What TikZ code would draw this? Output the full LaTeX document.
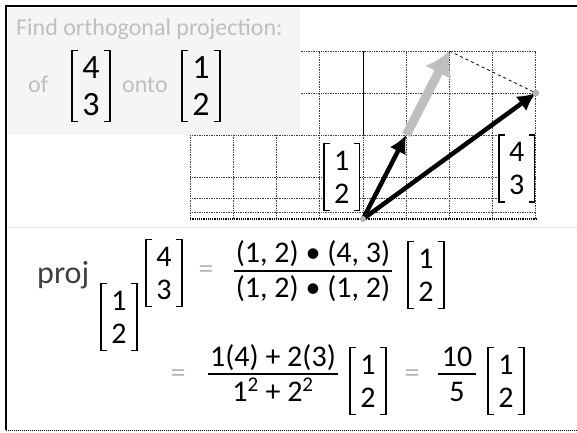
\documentclass[tikz,border=0pt]{standalone}
\usepackage{fontspec}
\setmainfont{Carlito}
\usetikzlibrary{arrows.meta,calc}

% square brackets round a column vector node
\newcommand{\brkt}[1]{%
  \draw[brk] ([xshift=6pt]#1.north west) -- (#1.north west) -- (#1.south west) -- ([xshift=6pt]#1.south west);
  \draw[brk] ([xshift=-6pt]#1.north east) -- (#1.north east) -- (#1.south east) -- ([xshift=-6pt]#1.south east);}

\begin{document}
\begin{tikzpicture}[x=1pt, y=-1pt,
    txt/.style={inner sep=0pt, font=\fontsize{30}{34}\selectfont},
    faint/.style={txt, text=gray!55},
    titletxt/.style={inner sep=0pt, font=\fontsize{24}{27}\selectfont, text=gray!50},
    vecnode/.style={align=center, inner xsep=10pt, inner ysep=7pt, font=\fontsize{30}{33}\selectfont},
    bigvec/.style={vecnode, inner ysep=6pt, font=\fontsize{34}{37}\selectfont},
    gridvec/.style={vecnode, fill=white},
    brk/.style={line width=1.5pt},
    frame/.style={line width=2.5pt},
    gridline/.style={densely dotted, line width=0.7pt, black!75},
    vecarrow/.style={line width=4.5pt, -{Latex[length=18pt,width=18pt]}},
    projarrow/.style={line width=9pt, gray!50, -{Latex[length=24pt,width=30pt]}},
    fracrule/.style={line width=1.2pt}]
    \useasboundingbox (0,0) rectangle (577,432);
    \fill[white] (0,0) rectangle (577,432);

    % Grid with vectors
    \begin{scope}[shift={(363,219)}, x=43.2pt, y=42pt]
        \foreach \i in {-4,...,4}
            \draw[gridline] (\i,0) -- (\i,4);
        \foreach \j in {0.17,0.5,1,2,3,4}
            \draw[gridline] (-4,\j) -- (4,\j);
        \draw[line width=1.2pt, densely dotted] (-4,0) -- (4,0);
        \draw[line width=0.9pt] (0,2) -- (0,4);
        \coordinate (O) at (0,0);
        \coordinate (u) at (1,2);
        \coordinate (v) at (4,3);
        \coordinate (p) at (2,4);
        \node[gridvec] (ulab) at (-0.49,1.0) {1\\2};
        \node[gridvec] (vlab) at (3.56,1.2) {4\\3};
        \brkt{ulab}
        \brkt{vlab}
        \draw[dashed, line width=0.8pt] (p) -- (v);
        \draw[projarrow] (u) -- (p);
        \draw[vecarrow] (O) -- (u);
        \draw[vecarrow] (O) -- (v);
        \fill[gray!60] (O) circle (3pt);
        \fill[gray!60] (v) circle (3.5pt);
    \end{scope}

    % Title box
    \fill[black!4] (8,8) rectangle (300,135);
    \node[titletxt, anchor=base west] (title) at (16,35) {Find orthogonal projection:};
    \node[titletxt, anchor=base west] (of) at (28,92) {of};
    \node[bigvec] (a) at (91,86) {4\\3};
    \node[titletxt, anchor=base west] (onto) at (122,92) {onto};
    \node[bigvec] (b) at (201,86) {1\\2};
    \brkt{a}
    \brkt{b}

    % Divider and frame
    \draw[gray!25, line width=1pt] (8,227) -- (577,227);
    \draw[frame] (577,6) -- (6,6) -- (6,430);
    \draw[densely dotted, line width=1pt] (6,430) -- (577,430);

    % First line
    \node[txt, anchor=base west, text=black!75, font=\fontsize{32}{34}\selectfont] (proj) at (37,283) {proj};
    \node[vecnode] (sub) at (119,317) {1\\2};
    \node[vecnode] (arg) at (164,273) {4\\3};
    \node[faint] (eq1) at (206,272) {=};
    \node[txt, anchor=base] (num1) at (313,262) {(1, 2) \textbullet\ (4, 3)};
    \node[txt, anchor=base] (den1) at (313,297) {(1, 2) \textbullet\ (1, 2)};
    \draw[fracrule] ([xshift=-2pt]num1.west |- 0,271) -- ([xshift=2pt]num1.east |- 0,271);
    \node[vecnode] (r1) at (426,275) {1\\2};
    \brkt{sub}
    \brkt{arg}
    \brkt{r1}

    % Second line
    \node[faint] (eq2) at (178,376) {=};
    \node[txt, anchor=base] (num2) at (273,366) {1(4) + 2(3)};
    \node[txt, anchor=base] (den2) at (273,401) {1\textsuperscript{2} + 2\textsuperscript{2}};
    \draw[fracrule] ([xshift=-2pt]num2.west |- 0,374) -- ([xshift=2pt]num2.east |- 0,374);
    \node[vecnode] (r2) at (368,381) {1\\2};
    \node[faint] (eq3) at (412,376) {=};
    \node[txt, anchor=base] (num3) at (457,366) {10};
    \node[txt, anchor=base] (den3) at (457,401) {5};
    \draw[fracrule] ([xshift=-4pt]num3.west |- 0,374) -- ([xshift=4pt]num3.east |- 0,374);
    \node[vecnode] (r3) at (506,381) {1\\2};
    \brkt{r2}
    \brkt{r3}
\end{tikzpicture}
\end{document}
